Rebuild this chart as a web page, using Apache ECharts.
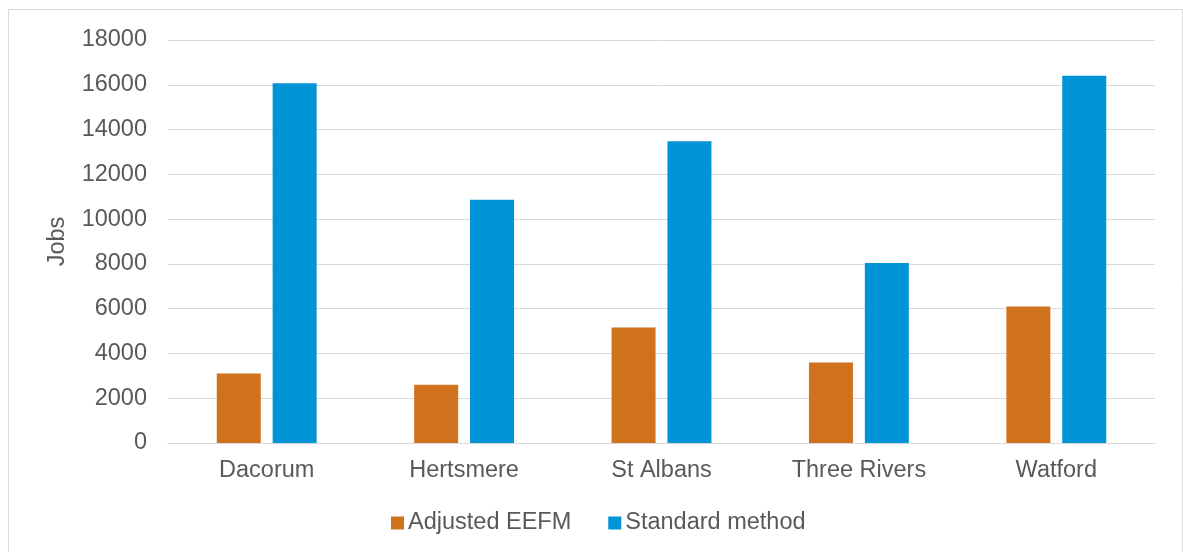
<!DOCTYPE html>
<html>
<head>
<meta charset="utf-8">
<script src="https://cdn.jsdelivr.net/npm/echarts@6/dist/echarts.min.js"></script>
<style>
html,body{margin:0;padding:0;background:#fff;}
#chart{width:1183px;height:552px;}
</style>
</head>
<body>
<div id="chart"></div>
<script>
const categories = ['Dacorum', 'Hertsmere', 'St Albans', 'Three Rivers', 'Watford'];
const adjustedEEFM = [3100, 2600, 5160, 3600, 6100];
const standardMethod = [16070, 10870, 13480, 8040, 16400];
const seriesNames = ['Adjusted EEFM', 'Standard method'];
const yAxisName = 'Jobs';

const chart = echarts.init(document.getElementById('chart'), null, {renderer: 'canvas'});
const font = 'Liberation Sans, Arial, sans-serif';
const fs = 23.5;
chart.setOption({
  animation: false,
  backgroundColor: '#fff',
  graphic: [{
    type: 'rect',
    shape: {x: 8.5, y: 9.5, width: 1174, height: 560},
    style: {fill: 'none', stroke: '#d9d9d9', lineWidth: 1},
    silent: true
  }],
  grid: {left: 168, right: 28, top: 40, bottom: 109, containLabel: false},
  legend: {
    data: seriesNames,
    left: 391,
    top: 511,
    padding: 0,
    itemWidth: 13,
    itemHeight: 13,
    itemGap: 37,
    icon: 'rect',
    textStyle: {color: '#595959', fontSize: fs, fontFamily: font, padding: [0, 0, 0, -1]}
  },
  xAxis: {
    type: 'category',
    data: categories,
    axisLine: {lineStyle: {color: '#d9d9d9', width: 1}},
    axisTick: {show: false},
    axisLabel: {color: '#595959', fontSize: fs, fontFamily: font, margin: 16}
  },
  yAxis: {
    type: 'value',
    min: 0,
    max: 18000,
    interval: 2000,
    name: yAxisName,
    nameLocation: 'middle',
    nameGap: 98,
    nameTextStyle: {color: '#595959', fontSize: fs, fontFamily: font},
    axisLine: {show: false},
    axisTick: {show: false},
    splitLine: {lineStyle: {color: '#d9d9d9', width: 1}},
    axisLabel: {color: '#595959', fontSize: fs, fontFamily: font, margin: 21,
                formatter: function (v) { return String(v); }}
  },
  series: [
    {name: seriesNames[0], type: 'bar', data: adjustedEEFM, barWidth: 44, barGap: '27%',
     itemStyle: {color: '#D0711E'}},
    {name: seriesNames[1], type: 'bar', data: standardMethod, barWidth: 44,
     itemStyle: {color: '#0093D6'}}
  ]
});
</script>
</body>
</html>
